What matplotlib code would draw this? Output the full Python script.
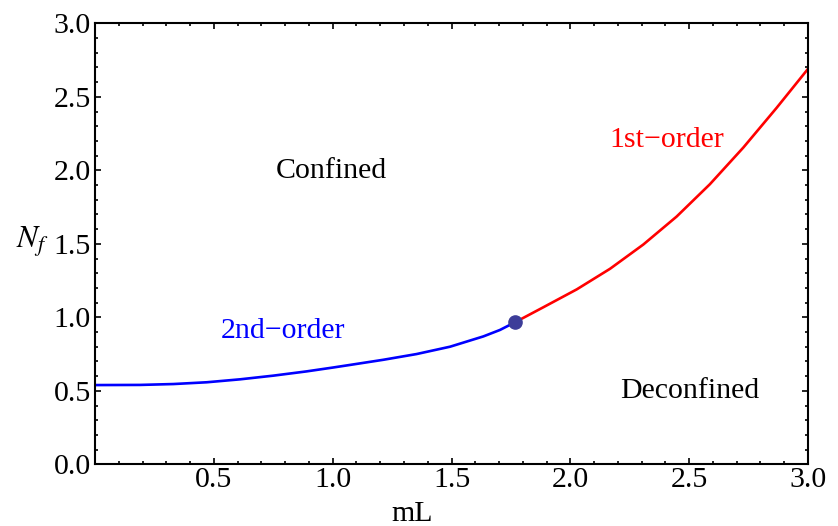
import numpy as np
import matplotlib
matplotlib.use("Agg")
import matplotlib.pyplot as plt
from matplotlib.ticker import MultipleLocator

plt.rcParams['font.family'] = ['Liberation Serif', 'DejaVu Serif']
plt.rcParams['mathtext.fontset'] = 'stix'

# curve values
ml_2nd = [0.0, 0.19, 0.33, 0.47, 0.61, 0.75, 0.89, 1.0, 1.073, 1.213, 1.353, 1.494, 1.634, 1.704, 1.767]
nf_2nd = [0.539, 0.540, 0.546, 0.558, 0.578, 0.603, 0.632, 0.658, 0.676, 0.711, 0.750, 0.800, 0.870, 0.914, 0.966]

ml_1st = [1.767, 1.886, 2.027, 2.167, 2.307, 2.447, 2.587, 2.728, 2.868, 3.0]
nf_1st = [0.966, 1.068, 1.190, 1.330, 1.495, 1.685, 1.905, 2.155, 2.425, 2.69]

crit_ml = [1.767]
crit_nf = [0.966]

xticks = [0.5, 1.0, 1.5, 2.0, 2.5, 3.0]
yticks = [0.0, 0.5, 1.0, 1.5, 2.0, 2.5, 3.0]

fs = 21.5

fig = plt.figure(figsize=(8.38, 5.26), dpi=100)
ax = fig.add_axes([0.1134, 0.1173, 0.8508, 0.8384])

ax.plot(ml_2nd, nf_2nd, color='#0000ff', lw=1.9, solid_joinstyle='round')
ax.plot(ml_1st, nf_1st, color='#ff0000', lw=1.9, solid_joinstyle='round')
ax.plot(crit_ml, crit_nf, 'o', color='#3d3d99', ms=9.5, zorder=5)

ax.text(0.995, 1.947, 'Confined', fontsize=fs, ha='center', va='baseline')
ax.text(2.503, 0.451, 'Deconfined', fontsize=fs, ha='center', va='baseline')
ax.text(0.792, 0.857, '2nd\u2212order', fontsize=fs, ha='center', va='baseline', color='#0000ff')
ax.text(2.407, 2.156, '1st\u2212order', fontsize=fs, ha='center', va='baseline', color='#ff0000')

ax.set_xlim(0, 3)
ax.set_ylim(0, 3)
ax.set_xticks(xticks)
ax.set_xticklabels(['%.1f' % t for t in xticks])
ax.set_yticks(yticks)
ax.set_yticklabels(['%.1f' % t for t in yticks])
ax.xaxis.set_minor_locator(MultipleLocator(0.1))
ax.yaxis.set_minor_locator(MultipleLocator(0.1))
ax.tick_params(which='both', direction='in', top=True, right=True, width=1.2, labelsize=fs)
ax.tick_params(which='major', length=4.5)
ax.tick_params(which='minor', length=2.5)
ax.tick_params(axis='x', pad=2)
ax.tick_params(axis='y', pad=3)
for s in ax.spines.values():
    s.set_linewidth(1.5)

fig.text(0.4916, 0.0095, 'mL', fontsize=fs, ha='center', va='baseline')
fig.text(0.039, 0.527, r'$N_f$', fontsize=fs + 1, ha='center', va='baseline')

fig.savefig('out.png', dpi=100)
